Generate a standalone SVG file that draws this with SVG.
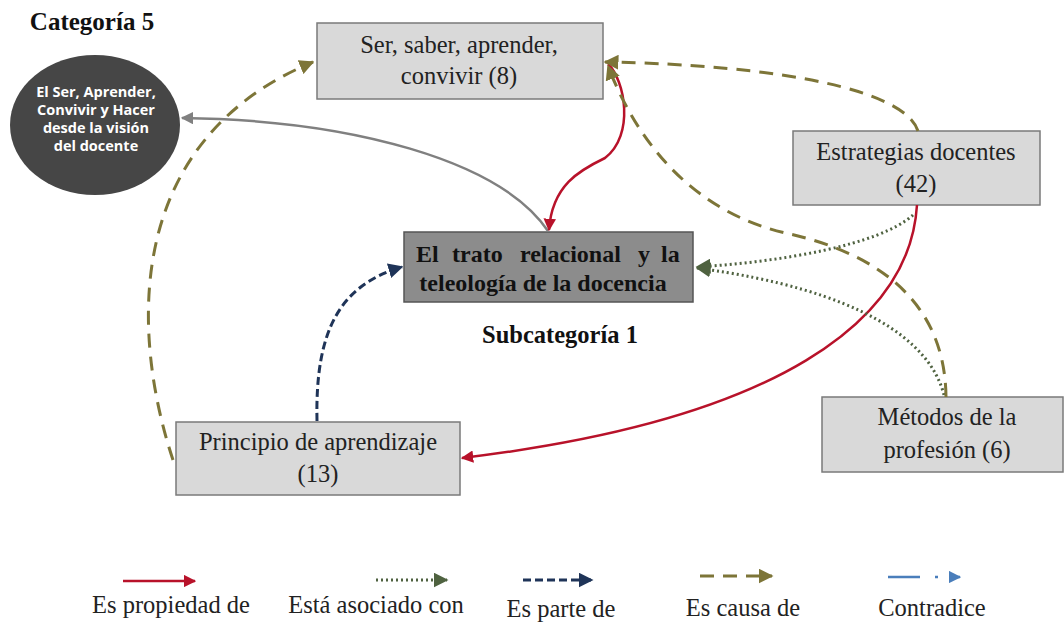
<svg xmlns="http://www.w3.org/2000/svg" width="1064" height="623" viewBox="0 0 1064 623">
<defs>
<style>
.box{fill:#d9d9d9;stroke:#7a7a7a;stroke-width:1.5}
.main{fill:#8c8c8c;stroke:#555;stroke-width:1.5}
.t{font-family:'Liberation Serif','Tinos','DejaVu Serif',serif;font-size:24.5px;fill:#222;text-anchor:middle}
.b{font-family:'Liberation Serif','Tinos','DejaVu Serif',serif;font-weight:bold;fill:#111}
.ct{font-family:'Open Sans','DejaVu Sans',sans-serif;font-weight:bold;font-size:14.5px;fill:#fff;text-anchor:middle}
.c{fill:none;stroke-width:2.5}
.red{stroke:#b8122a}
.grn{stroke:#4f6240;stroke-dasharray:2 3;stroke-width:3}
.nav{stroke:#1f3458;stroke-dasharray:8 4;stroke-width:3}
.olv{stroke:#7d7538;stroke-dasharray:14 9;stroke-width:3}
.gry{stroke:#808080}
.blu{stroke:#4a7ebb}
</style>
<marker id="mr" viewBox="0 0 10 10" refX="9" refY="5" markerWidth="5" markerHeight="5" orient="auto" markerUnits="strokeWidth"><path d="M0,0L10,5L0,10z" fill="#b8122a"/></marker>
<marker id="mg" viewBox="0 0 10 10" refX="9" refY="5" markerWidth="5" markerHeight="5" orient="auto" markerUnits="strokeWidth"><path d="M0,0L10,5L0,10z" fill="#4f6240"/></marker>
<marker id="mn" viewBox="0 0 10 10" refX="9" refY="5" markerWidth="5" markerHeight="5" orient="auto" markerUnits="strokeWidth"><path d="M0,0L10,5L0,10z" fill="#1f3458"/></marker>
<marker id="mo" viewBox="0 0 10 10" refX="9" refY="5" markerWidth="5" markerHeight="5" orient="auto" markerUnits="strokeWidth"><path d="M0,0L10,5L0,10z" fill="#7d7538"/></marker>
<marker id="my" viewBox="0 0 10 10" refX="9" refY="5" markerWidth="5" markerHeight="5" orient="auto" markerUnits="strokeWidth"><path d="M0,0L10,5L0,10z" fill="#808080"/></marker>
<marker id="mb" viewBox="0 0 10 10" refX="9" refY="5" markerWidth="5" markerHeight="5" orient="auto" markerUnits="strokeWidth"><path d="M0,0L10,5L0,10z" fill="#4a7ebb"/></marker>
</defs>
<rect width="1064" height="623" fill="#fff"/>

<g id="categoria5">
<text class="b" x="92" y="30" font-size="25" text-anchor="middle">Categoría 5</text>
<ellipse cx="95" cy="125" rx="85" ry="70" fill="#464646"/>
<text class="ct" x="96" y="97">El Ser, Aprender,</text>
<text class="ct" x="96" y="115">Convivir y Hacer</text>
<text class="ct" x="96" y="133">desde la visión</text>
<text class="ct" x="96" y="151">del docente</text>
</g>

<g id="ser">
<rect class="box" x="317" y="23" width="286" height="76"/>
<text class="t" x="459" y="53">Ser, saber, aprender,</text>
<text class="t" x="459" y="84">convivir (8)</text>
</g>

<g id="estrategias">
<rect class="box" x="793" y="131" width="247" height="74"/>
<text class="t" x="916" y="160">Estrategias docentes</text>
<text class="t" x="916" y="192">(42)</text>
</g>

<g id="subcategoria1">
<rect class="main" x="404" y="232" width="289" height="70"/>
<text class="b" y="262" font-size="24"><tspan x="416">El</tspan><tspan x="452">trato</tspan><tspan x="520">relacional</tspan><tspan x="638">y</tspan><tspan x="661">la</tspan></text>
<text class="b" x="543" y="291" font-size="24" text-anchor="middle">teleología de la docencia</text>
<text class="b" x="560" y="343" font-size="24.5" text-anchor="middle">Subcategoría 1</text>
</g>

<g id="principio">
<rect class="box" x="176" y="422" width="284" height="73"/>
<text class="t" x="318" y="450">Principio de aprendizaje</text>
<text class="t" x="318" y="482">(13)</text>
</g>

<g id="metodos">
<rect class="box" x="822" y="397" width="241" height="75"/>
<text class="t" x="947" y="425">Métodos de la</text>
<text class="t" x="947" y="458">profesión (6)</text>
</g>

<g id="connectors">
<path class="c gry" d="M548,231 C500,160 350,120 182,118" marker-end="url(#my)"/>
<path class="c red" d="M608,64 C625,80 635,135 605,158 C580,170 552,185 549,230" marker-end="url(#mr)"/>
<path class="c red" d="M917,205 C910,320 780,420 462,458" marker-end="url(#mr)"/>
<path class="c grn" d="M913,215 C880,245 780,262 697,267" marker-end="url(#mg)"/>
<path class="c grn" d="M944,395 C930,340 860,290 697,268" marker-end="url(#mg)"/>
<path class="c olv" d="M918,131 C905,90 780,65 605,62" marker-end="url(#mo)"/>
<path class="c olv" d="M946,397 C945,290 860,250 790,234 C700,215 640,150 608,66" marker-end="url(#mo)"/>
<path class="c olv" d="M173,460 C130,330 125,140 313,62" marker-end="url(#mo)"/>
<path class="c nav" d="M317,421 C315,330 340,285 402,267" marker-end="url(#mn)"/>
</g>

<g id="legend">
<path class="c red" d="M123,581 H195" marker-end="url(#mr)"/>
<path class="c grn" d="M376,580 H447" marker-end="url(#mg)"/>
<path class="c nav" d="M523,580 H592" marker-end="url(#mn)"/>
<path class="c olv" d="M700,576 H772" marker-end="url(#mo)"/>
<path class="c blu" d="M888,577 H920 M935,577 H938 M950,577 H960" marker-end="url(#mb)"/>
<text class="t" x="171" y="613">Es propiedad de</text>
<text class="t" x="376" y="613">Está asociado con</text>
<text class="t" x="561" y="617">Es parte de</text>
<text class="t" x="743" y="616">Es causa de</text>
<text class="t" x="932" y="616">Contradice</text>
</g>
</svg>
